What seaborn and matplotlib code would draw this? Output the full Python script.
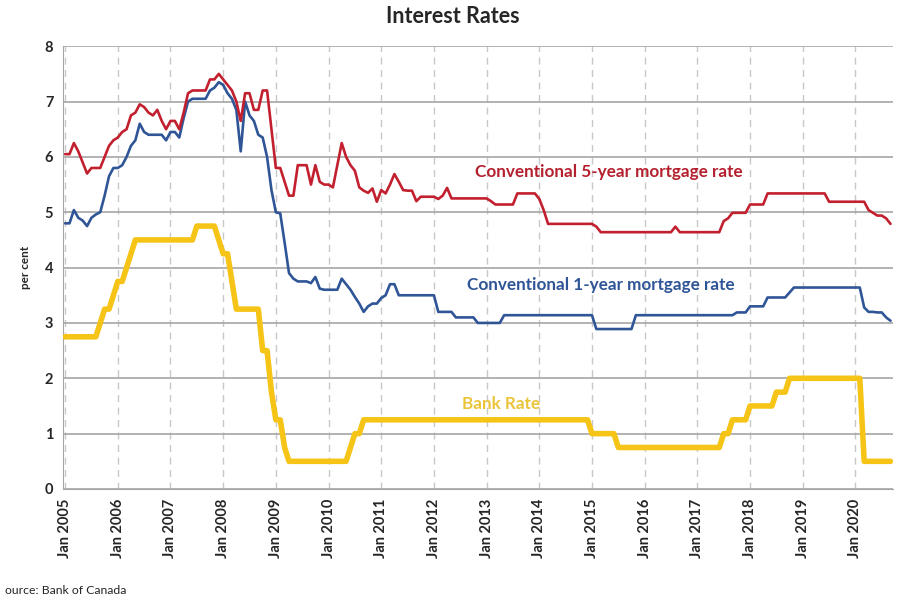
import numpy as np
import pandas as pd
import seaborn as sns
import matplotlib.pyplot as plt

# monthly values, Jan 2005 - Sep 2020 (per cent)
five_year = [
    6.05, 6.05, 6.25, 6.10, 5.90, 5.70, 5.80, 5.80, 5.80, 6.00, 6.20, 6.30,  # 2005
    6.35, 6.45, 6.50, 6.75, 6.80, 6.95, 6.90, 6.80, 6.75, 6.85, 6.65, 6.50,  # 2006
    6.65, 6.65, 6.50, 6.80, 7.15, 7.20, 7.20, 7.20, 7.20, 7.40, 7.40, 7.50,  # 2007
    7.40, 7.30, 7.20, 7.00, 6.65, 7.15, 7.15, 6.85, 6.85, 7.20, 7.20, 6.50,  # 2008
    5.80, 5.80, 5.55, 5.30, 5.30, 5.85, 5.85, 5.85, 5.50, 5.85, 5.55, 5.50,  # 2009
    5.50, 5.45, 5.85, 6.25, 6.00, 5.85, 5.75, 5.45, 5.39, 5.35, 5.43, 5.19,  # 2010
    5.40, 5.34, 5.50, 5.69, 5.55, 5.40, 5.39, 5.39, 5.20, 5.28, 5.28, 5.28,  # 2011
    5.28, 5.24, 5.30, 5.44, 5.25, 5.25, 5.25, 5.25, 5.25, 5.25, 5.25, 5.25,  # 2012
    5.25, 5.20, 5.14, 5.14, 5.14, 5.14, 5.14, 5.34, 5.34, 5.34, 5.34, 5.34,  # 2013
    5.24, 5.04, 4.79, 4.79, 4.79, 4.79, 4.79, 4.79, 4.79, 4.79, 4.79, 4.79,  # 2014
    4.79, 4.74, 4.64, 4.64, 4.64, 4.64, 4.64, 4.64, 4.64, 4.64, 4.64, 4.64,  # 2015
    4.64, 4.64, 4.64, 4.64, 4.64, 4.64, 4.64, 4.74, 4.64, 4.64, 4.64, 4.64,  # 2016
    4.64, 4.64, 4.64, 4.64, 4.64, 4.64, 4.84, 4.89, 4.99, 4.99, 4.99, 4.99,  # 2017
    5.14, 5.14, 5.14, 5.14, 5.34, 5.34, 5.34, 5.34, 5.34, 5.34, 5.34, 5.34,  # 2018
    5.34, 5.34, 5.34, 5.34, 5.34, 5.34, 5.19, 5.19, 5.19, 5.19, 5.19, 5.19,  # 2019
    5.19, 5.19, 5.19, 5.04, 4.99, 4.94, 4.94, 4.89, 4.79,                    # 2020
]

one_year = [
    4.80, 4.80, 5.04, 4.90, 4.85, 4.75, 4.90, 4.96, 5.00, 5.30, 5.65, 5.80,  # 2005
    5.80, 5.85, 6.00, 6.20, 6.30, 6.60, 6.45, 6.40, 6.40, 6.40, 6.40, 6.30,  # 2006
    6.45, 6.45, 6.35, 6.70, 7.00, 7.05, 7.05, 7.05, 7.05, 7.20, 7.25, 7.35,  # 2007
    7.30, 7.15, 7.05, 6.85, 6.10, 7.00, 6.75, 6.65, 6.40, 6.35, 6.00, 5.40,  # 2008
    5.00, 4.98, 4.45, 3.90, 3.80, 3.75, 3.75, 3.75, 3.72, 3.83, 3.62, 3.60,  # 2009
    3.60, 3.60, 3.60, 3.80, 3.70, 3.60, 3.47, 3.35, 3.20, 3.30, 3.35, 3.35,  # 2010
    3.45, 3.50, 3.70, 3.70, 3.50, 3.50, 3.50, 3.50, 3.50, 3.50, 3.50, 3.50,  # 2011
    3.50, 3.20, 3.20, 3.20, 3.20, 3.10, 3.10, 3.10, 3.10, 3.10, 3.00, 3.00,  # 2012
    3.00, 3.00, 3.00, 3.00, 3.14, 3.14, 3.14, 3.14, 3.14, 3.14, 3.14, 3.14,  # 2013
    3.14, 3.14, 3.14, 3.14, 3.14, 3.14, 3.14, 3.14, 3.14, 3.14, 3.14, 3.14,  # 2014
    3.14, 2.89, 2.89, 2.89, 2.89, 2.89, 2.89, 2.89, 2.89, 2.89, 3.14, 3.14,  # 2015
    3.14, 3.14, 3.14, 3.14, 3.14, 3.14, 3.14, 3.14, 3.14, 3.14, 3.14, 3.14,  # 2016
    3.14, 3.14, 3.14, 3.14, 3.14, 3.14, 3.14, 3.14, 3.14, 3.19, 3.19, 3.19,  # 2017
    3.30, 3.30, 3.30, 3.30, 3.46, 3.46, 3.46, 3.46, 3.46, 3.55, 3.64, 3.64,  # 2018
    3.64, 3.64, 3.64, 3.64, 3.64, 3.64, 3.64, 3.64, 3.64, 3.64, 3.64, 3.64,  # 2019
    3.64, 3.64, 3.28, 3.20, 3.20, 3.19, 3.19, 3.10, 3.04,                    # 2020
]

bank_rate = [
    2.75, 2.75, 2.75, 2.75, 2.75, 2.75, 2.75, 2.75, 3.00, 3.25, 3.25, 3.50,  # 2005
    3.75, 3.75, 4.00, 4.25, 4.50, 4.50, 4.50, 4.50, 4.50, 4.50, 4.50, 4.50,  # 2006
    4.50, 4.50, 4.50, 4.50, 4.50, 4.50, 4.75, 4.75, 4.75, 4.75, 4.75, 4.50,  # 2007
    4.25, 4.25, 3.75, 3.25, 3.25, 3.25, 3.25, 3.25, 3.25, 2.50, 2.50, 1.75,  # 2008
    1.25, 1.25, 0.75, 0.50, 0.50, 0.50, 0.50, 0.50, 0.50, 0.50, 0.50, 0.50,  # 2009
    0.50, 0.50, 0.50, 0.50, 0.50, 0.75, 1.00, 1.00, 1.25, 1.25, 1.25, 1.25,  # 2010
    1.25, 1.25, 1.25, 1.25, 1.25, 1.25, 1.25, 1.25, 1.25, 1.25, 1.25, 1.25,  # 2011
    1.25, 1.25, 1.25, 1.25, 1.25, 1.25, 1.25, 1.25, 1.25, 1.25, 1.25, 1.25,  # 2012
    1.25, 1.25, 1.25, 1.25, 1.25, 1.25, 1.25, 1.25, 1.25, 1.25, 1.25, 1.25,  # 2013
    1.25, 1.25, 1.25, 1.25, 1.25, 1.25, 1.25, 1.25, 1.25, 1.25, 1.25, 1.25,  # 2014
    1.00, 1.00, 1.00, 1.00, 1.00, 1.00, 0.75, 0.75, 0.75, 0.75, 0.75, 0.75,  # 2015
    0.75, 0.75, 0.75, 0.75, 0.75, 0.75, 0.75, 0.75, 0.75, 0.75, 0.75, 0.75,  # 2016
    0.75, 0.75, 0.75, 0.75, 0.75, 0.75, 1.00, 1.00, 1.25, 1.25, 1.25, 1.25,  # 2017
    1.50, 1.50, 1.50, 1.50, 1.50, 1.50, 1.75, 1.75, 1.75, 2.00, 2.00, 2.00,  # 2018
    2.00, 2.00, 2.00, 2.00, 2.00, 2.00, 2.00, 2.00, 2.00, 2.00, 2.00, 2.00,  # 2019
    2.00, 2.00, 0.50, 0.50, 0.50, 0.50, 0.50, 0.50, 0.50,                    # 2020
]

years = list(range(2005, 2021))
tick_labels = ["Jan %d" % y for y in years]

# month index -> decimal year
t = 2005 + np.arange(len(bank_rate)) / 12.0
df = pd.DataFrame({"t": t, "five": five_year, "one": one_year, "bank": bank_rate})

sns.set_style("white")
plt.rcParams['font.family'] = ['Lato', 'DejaVu Sans']

red = "#C3202F"
blue = "#2F5597"
gold = "#F5C416"

fig = plt.figure(figsize=(9, 6), dpi=100)
ax = fig.add_axes([0.07, 0.185, 0.922, 0.738])

sns.lineplot(data=df, x="t", y="bank", color=gold, linewidth=4.0, ax=ax, zorder=3)
sns.lineplot(data=df, x="t", y="one", color=blue, linewidth=1.9, ax=ax, zorder=4)
sns.lineplot(data=df, x="t", y="five", color=red, linewidth=1.9, ax=ax, zorder=5)

ax.set_xlim(2004.96, 2020.71)
ax.set_ylim(0, 8)
ax.set_yticks(range(0, 9))
ax.set_yticklabels([str(v) for v in range(0, 9)], fontsize=10.5, fontweight="bold")
ax.set_xticks(years)
ax.set_xticklabels(tick_labels, rotation=90, fontsize=10.5, fontweight="bold")

ax.grid(axis="y", color="#A6A6A6", linewidth=1.2, linestyle="-")
ax.grid(axis="x", color="#C8C8C8", linewidth=1.0, linestyle=(0, (5, 4)))
ax.set_axisbelow(True)
for s in ["top", "right"]:
    ax.spines[s].set_visible(False)
ax.spines["left"].set_color("#A6A6A6")
ax.spines["bottom"].set_color("#A6A6A6")
ax.tick_params(axis="both", length=4, color="#A6A6A6", pad=3)

ax.set_xlabel("")
ax.set_ylabel("per cent", fontsize=8.5, fontweight="bold", labelpad=10)

ax.text(2015.32, 5.72, "Conventional 5-year mortgage rate", color="#B5202E",
        fontsize=12.3, fontweight="bold", ha="center", va="center")
ax.text(2015.17, 3.68, "Conventional 1-year mortgage rate", color="#2F5597",
        fontsize=12.3, fontweight="bold", ha="center", va="center")
ax.text(2013.27, 1.53, "Bank Rate", color="#EBC43A",
        fontsize=12.3, fontweight="bold", ha="center", va="center")

fig.text(0.503, 0.972, "Interest Rates", fontsize=15.5, fontweight="bold",
         ha="center", va="center")
fig.text(0.006, 0.016, "ource: Bank of Canada", fontsize=8.8, ha="left", va="center")

fig.savefig("out.png", dpi=100)
